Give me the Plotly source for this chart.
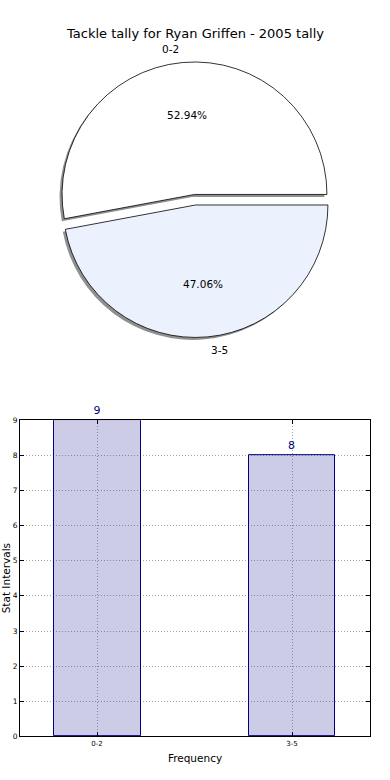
import math
import plotly.graph_objects as go

# ---- data ----
categories = ["0-2", "3-5"]
tackle_counts = [9, 8]
pie_colors = ["#ffffff", "#ebf1fd"]
title_text = "Tackle tally for Ryan Griffen - 2005 tally"
x_title = "Frequency"
y_title = "Stat Intervals"
y_ticks = list(range(0, 10))

W, H = 390, 780
FONT = "DejaVu Sans"

def px_x(p):
    return p / W

def px_y(p):
    return 1 - p / H

# ---- pie geometry (pixels) ----
cx, cy, r, pull = 195.0, 198.0, 134.0, 0.04
half = r * (1 + pull)
pie_dom_x = [px_x(cx - half), px_x(cx + half)]
pie_dom_y = [px_y(cy + half), px_y(cy - half)]
sdx, sdy = -2.5, 2.5
shadow_dom_x = [px_x(cx - half + sdx), px_x(cx + half + sdx)]
shadow_dom_y = [px_y(cy + half + sdy), px_y(cy - half + sdy)]

total = sum(tackle_counts)
# first slice starts at 3 o'clock and runs counterclockwise (matplotlib default)
rotation = 90 - 360.0 * tackle_counts[0] / total

fig = go.Figure()

fig.add_trace(go.Pie(
    labels=categories, values=tackle_counts, sort=False,
    direction="counterclockwise", rotation=rotation,
    pull=[pull] * len(categories),
    marker=dict(colors=["#909090"] * len(categories), line=dict(width=0)),
    textinfo="none", hoverinfo="skip", showlegend=False,
    domain=dict(x=shadow_dom_x, y=shadow_dom_y),
))
fig.add_trace(go.Pie(
    labels=categories, values=tackle_counts, sort=False,
    direction="counterclockwise", rotation=rotation,
    pull=[pull] * len(categories),
    marker=dict(colors=pie_colors, line=dict(color="#000000", width=0.8)),
    textinfo="none", showlegend=False,
    domain=dict(x=pie_dom_x, y=pie_dom_y),
))

# pie text (matplotlib style: pct at 0.6 r, labels at 1.1 r)
annotations = []
start = 0.0
for lab, v in zip(categories, tackle_counts):
    span = 360.0 * v / total
    mid = math.radians(start + span / 2)
    start += span
    ox = cx + pull * r * math.cos(mid)
    oy = cy - pull * r * math.sin(mid)
    annotations.append(dict(
        x=px_x(ox + 0.6 * r * math.cos(mid)), y=px_y(oy - 0.6 * r * math.sin(mid)),
        xref="paper", yref="paper", text=f"{100 * v / total:.2f}%", showarrow=False,
        xanchor="center", yanchor="middle", font=dict(family=FONT, size=10.5, color="#000")))
    annotations.append(dict(
        x=px_x(ox + 1.1 * r * math.cos(mid)), y=px_y(oy - 1.1 * r * math.sin(mid)),
        xref="paper", yref="paper", text=lab, showarrow=False,
        xanchor="right" if math.cos(mid) < 0 else "left", yanchor="middle",
        font=dict(family=FONT, size=10.5, color="#000")))

annotations.append(dict(
    x=0.5, y=px_y(30), xref="paper", yref="paper", text=title_text, showarrow=False,
    xanchor="center", yanchor="middle", font=dict(family=FONT, size=13, color="#000")))
annotations.append(dict(
    x=px_x(6), y=px_y(581), xref="paper", yref="paper", text=y_title, showarrow=False,
    textangle=-90, xanchor="center", yanchor="middle",
    font=dict(family=FONT, size=10.5, color="#000")))

# ---- bar chart ----
fig.add_trace(go.Bar(
    x=categories, y=tackle_counts, width=0.446,
    marker=dict(color="rgba(0,0,128,0.2)", line=dict(color="#000080", width=1)),
    text=[str(v) for v in tackle_counts], textposition="outside",
    textfont=dict(family=FONT, size=11, color="#000080"),
    cliponaxis=False, showlegend=False,
    xaxis="x", yaxis="y",
))

fig.update_layout(
    width=W, height=H,
    margin=dict(l=0, r=0, t=0, b=0),
    paper_bgcolor="white", plot_bgcolor="white",
    font=dict(family=FONT, color="#000"),
    annotations=annotations,
    xaxis=dict(
        domain=[px_x(20), px_x(370)], type="category",
        range=[-0.395, 1.4],
        showline=True, linecolor="#000", linewidth=1, mirror="allticks",
        ticks="inside", ticklen=4, tickcolor="#000",
        showgrid=True, gridcolor="#a8a8a8", griddash="1px,2px", gridwidth=1,
        tickfont=dict(family=FONT, size=7, color="#000"),
        title=dict(text=x_title, font=dict(family=FONT, size=10.5, color="#000"), standoff=7),
        zeroline=False, fixedrange=True,
    ),
    yaxis=dict(
        domain=[px_y(741), px_y(421)],
        range=[0, 9], tickvals=y_ticks,
        showline=True, linecolor="#000", linewidth=1, mirror="allticks",
        ticks="inside", ticklen=4, tickcolor="#000",
        showgrid=True, gridcolor="#a8a8a8", griddash="1px,2px", gridwidth=1,
        tickfont=dict(family=FONT, size=7.5, color="#000"),
        zeroline=False, fixedrange=True,
    ),
    bargap=0,
)

fig.write_html(
    "out.html",
    config={"displayModeBar": False},
    post_script="document.body.style.margin='0';document.body.style.overflow='hidden';",
)
